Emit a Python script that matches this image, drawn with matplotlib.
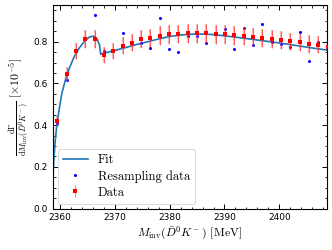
import matplotlib
matplotlib.use("Agg")
import matplotlib.pyplot as plt
from matplotlib.ticker import MultipleLocator

plt.rcParams['mathtext.fontset'] = 'cm'

# bin centres (MeV)
m_data = [2359.5, 2361.2, 2362.9, 2364.6, 2366.3, 2368.0, 2369.7, 2371.4, 2373.1, 2374.8,
          2376.5, 2378.2, 2379.9, 2381.6, 2383.3, 2385.0, 2386.7, 2388.4, 2390.1, 2391.8,
          2393.5, 2395.2, 2396.9, 2398.6, 2400.3, 2402.0, 2403.7, 2405.4, 2407.1, 2408.8]
y_data = [0.421, 0.644, 0.755, 0.811, 0.813, 0.736, 0.755, 0.781, 0.795, 0.811,
          0.818, 0.829, 0.835, 0.838, 0.840, 0.840, 0.840, 0.835, 0.835, 0.830,
          0.827, 0.823, 0.819, 0.813, 0.807, 0.802, 0.797, 0.790, 0.786, 0.776]
y_err = [0.022, 0.034, 0.040, 0.043, 0.043, 0.039, 0.040, 0.041, 0.042, 0.043,
         0.043, 0.044, 0.044, 0.044, 0.044, 0.044, 0.044, 0.044, 0.044, 0.044,
         0.044, 0.044, 0.043, 0.043, 0.043, 0.042, 0.042, 0.042, 0.042, 0.041]
y_resamp = [0.412, 0.615, 0.757, 0.815, 0.928, 0.755, 0.755, 0.840, 0.792, 0.795,
            0.771, 0.915, 0.766, 0.752, 0.829, 0.827, 0.795, 0.835, 0.861, 0.763,
            0.864, 0.783, 0.883, 0.799, 0.788, 0.775, 0.848, 0.709, 0.800, 0.780]

m_fit = [2358.6, 2358.65, 2358.75, 2358.9, 2359.1, 2359.4, 2359.8, 2360.3, 2361.0, 2361.8,
         2362.6, 2363.5, 2364.4, 2365.2, 2365.8, 2366.3, 2366.8, 2367.2, 2367.4, 2367.6,
         2368.5, 2370, 2372, 2374, 2376, 2378, 2380, 2382, 2384, 2386,
         2388, 2390, 2392, 2394, 2396, 2398, 2400, 2402, 2404, 2406, 2408.7]
y_fit = [0.0, 0.08, 0.17, 0.25, 0.32, 0.40, 0.47, 0.55, 0.62, 0.68,
         0.73, 0.77, 0.80, 0.82, 0.826, 0.825, 0.81, 0.785, 0.74, 0.742,
         0.748, 0.758, 0.772, 0.787, 0.800, 0.813, 0.825, 0.832, 0.836, 0.837,
         0.834, 0.828, 0.822, 0.815, 0.808, 0.801, 0.794, 0.786, 0.778, 0.770, 0.760]

fig = plt.figure(figsize=(3.32, 2.5), dpi=100)
ax = fig.add_axes([0.159, 0.166, 0.825, 0.814])

ax.plot(m_fit, y_fit, color='#1f77b4', lw=1.2, label='Fit', zorder=2)
ax.plot(m_data, y_resamp, 'o', color='blue', ms=2.2, mew=0, label='Resampling data', zorder=3)
ax.errorbar(m_data, y_data, yerr=y_err, fmt='none', ecolor=(1, 0.35, 0.35, 0.45),
            elinewidth=1.6, zorder=4)
ax.errorbar(m_data, y_data, yerr=y_err, fmt='s', color='red', ms=2.2, mew=0,
            ecolor=(1, 0, 0, 0.7), elinewidth=0.5, capsize=1.6, capthick=0.7,
            label='Data', zorder=5)

ax.set_xlim(2358.67, 2408.65)
ax.set_ylim(0, 0.976)
ax.xaxis.set_major_locator(MultipleLocator(10))
ax.xaxis.set_minor_locator(MultipleLocator(2))
ax.yaxis.set_major_locator(MultipleLocator(0.2))
ax.yaxis.set_minor_locator(MultipleLocator(0.05))
ax.tick_params(which='both', direction='in', top=True, right=True, labelsize=6.5)
ax.tick_params(which='major', length=3.6, width=0.7)
ax.tick_params(which='minor', length=1.8, width=0.6)
for s in ax.spines.values():
    s.set_linewidth(0.8)

ax.set_xlabel(r'$M_{\rm inv}(\bar{D}^0K^-)$ $[\rm MeV]$', fontsize=8.5, labelpad=2)
ax.set_ylabel(r'$\frac{\mathrm{d}\Gamma}{\mathrm{d}M_{\rm inv}(\bar{D}^0K^-)}$ $[\times 10^{-5}]$',
              fontsize=8.5, labelpad=2)

leg = ax.legend(loc='lower left', prop={'family': 'cmr10', 'size': 9}, handlelength=2.0,
                framealpha=0.8, borderaxespad=0.4, labelspacing=0.3)
leg.get_frame().set_linewidth(0.6)

fig.savefig('out.png', dpi=100)
